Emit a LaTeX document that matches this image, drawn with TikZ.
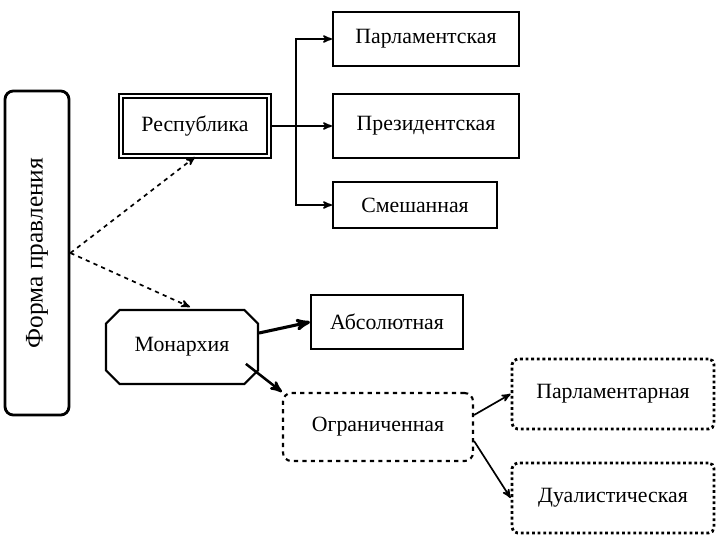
\documentclass[tikz,border=0pt]{standalone}
\usepackage{fontspec}
\setmainfont{Liberation Serif}
\usetikzlibrary{positioning, arrows, shapes.misc}

\begin{document}
\begin{tikzpicture}[x=0.025cm, y=-0.025cm, line width=1.5pt,
  box/.style={draw, rectangle, inner sep=0pt, font=\fontsize{15.5}{18}\selectfont},
  link/.style={->, >=stealth', line width=1.2pt}]
  \useasboundingbox (0,0) rectangle (720,540);
  \node[box, rounded corners=6pt, minimum width=1.6cm, minimum height=8.1cm,
        line width=2pt] (forma) at (37,253) {\rotatebox{90}{\fontsize{18}{20}\selectfont Форма правления}};
  \node[box, double, double distance=1.5pt, minimum width=3.7cm, minimum height=1.5cm] (resp) at (195,126) {Республика};
  \node[box, minimum width=4.65cm, minimum height=1.35cm] (parl) at (426,39) {Парламентская};
  \node[box, minimum width=4.65cm, minimum height=1.6cm] (pres) at (426,126) {Президентская};
  \node[box, minimum width=4.1cm, minimum height=1.15cm] (smesh) at (415,205) {Смешанная};
  \node[box, chamfered rectangle, chamfered rectangle xsep=0.35cm, minimum width=3.8cm, minimum height=1.85cm] (mon) at (182,347) {Монархия};
  \node[box, minimum width=3.8cm, minimum height=1.35cm] (abs) at (387,322) {Абсолютная};
  \node[box, dashed, rounded corners=6pt, minimum width=4.75cm, minimum height=1.7cm] (ogr) at (378,427) {Ограниченная};
  \node[box, dotted, line width=2pt, rounded corners=4pt, minimum width=5.05cm, minimum height=1.75cm] (parlm) at (613,394) {Парламентарная};
  \node[box, dotted, line width=2pt, rounded corners=4pt, minimum width=5.05cm, minimum height=1.75cm] (dual) at (613,498) {Дуалистическая};
  % branches of the republic
  \coordinate (fork) at (296,126);
  \draw (resp.east) -- (fork);
  \draw[link] (fork) |- (parl.west);
  \draw[link] (fork) -- (pres.west);
  \draw[link] (fork) |- (smesh.west);
  % from the form of government
  \coordinate (tomon) at (190,307);
  \draw[link, dashed] (forma.east) -- (resp.south);
  \draw[link, dashed] (forma.east) -- (tomon);
  % monarchy
  \draw[link, line width=2.2pt] (mon.east) ++(0,-14) -- (abs.west);
  \draw[link, line width=1.8pt] (mon.south east) ++(-6,-14) -- (ogr.north west);
  \draw[link] (ogr.east) ++(0,-12) -- (parlm.west);
  \draw[link] (ogr.east) ++(0,14) -- (dual.west);
\end{tikzpicture}
\end{document}
